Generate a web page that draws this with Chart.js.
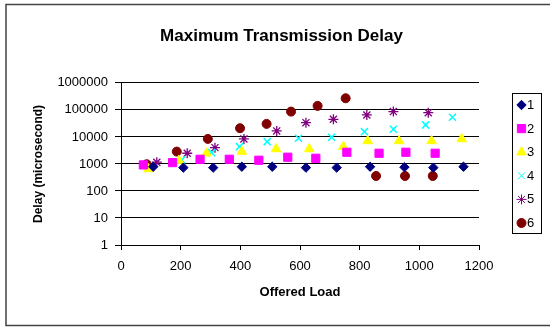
<!DOCTYPE html>
<html>
<head>
<meta charset="utf-8">
<script src="https://cdn.jsdelivr.net/npm/chart.js@4/dist/chart.umd.min.js"></script>
<style>
  html, body { margin: 0; padding: 0; background: #fff; }
  #wrap { width: 550px; height: 327px; }
</style>
</head>
<body>
<div id="wrap"><canvas id="chart1" width="550" height="327"></canvas></div>
<script>
// data
var seriesNames = ['1', '2', '3', '4', '5', '6'];

var load1 = [108, 209, 309, 405, 507, 620, 723, 835, 950, 1047, 1148];
var delay1 = [790, 730, 730, 790, 790, 730, 730, 790, 760, 730, 790];

var load2 = [75, 173, 265, 363, 462, 559, 653, 757, 865, 955, 1053];
var delay2 = [920, 1120, 1490, 1490, 1370, 1770, 1620, 2710, 2490, 2710, 2490];

var load3 = [92, 194, 287, 405, 520, 631, 745, 827, 932, 1041, 1142];
var delay3 = [650, 1330, 2490, 2860, 3590, 3590, 4370, 7100, 7100, 7100, 8430];

var load4 = [92, 203, 304, 397, 490, 595, 706, 816, 913, 1021, 1111];
var delay4 = [700, 1400, 2620, 4370, 6700, 8950, 9740, 15700, 19300, 27800, 53600];

var load5 = [120, 222, 315, 412, 522, 620, 712, 824, 913, 1030];
var delay5 = [1160, 2490, 4020, 8430, 16700, 33800, 45000, 65000, 86500, 79000];

var load6 = [86, 187, 291, 399, 488, 570, 659, 753, 855, 952, 1045];
var delay6 = [975, 2860, 8430, 21000, 30400, 86500, 141000, 270000, 359, 359, 359];

var yTicks = [1, 10, 100, 1000, 10000, 100000, 1000000];

var FONT = "'Liberation Sans', Arial, sans-serif";

function pts(xs, ys) {
    return xs.map(function (x, i) { return { x: x, y: ys[i] }; });
}

var styles = [
    { color: '#000080', pointStyle: 'rectRot', radius: 4.7, borderWidth: 1 },
    { color: '#FF00FF', pointStyle: 'rect', radius: 5.8, borderWidth: 1 },
    { color: '#FFFF00', pointStyle: 'triangle', radius: 5.5, borderWidth: 1 },
    { color: '#00FFFF', pointStyle: 'crossRot', radius: 5, borderWidth: 1.5 },
    { color: '#800080', pointStyle: 'star', radius: 5, borderWidth: 1.3 },
    { color: '#800000', pointStyle: 'circle', radius: 4.5, borderWidth: 1 }
];

var allData = [
    pts(load1, delay1), pts(load2, delay2), pts(load3, delay3),
    pts(load4, delay4), pts(load5, delay5), pts(load6, delay6)
];

var datasets = allData.map(function (d, i) {
    var s = styles[i];
    return {
        label: seriesNames[i],
        data: d,
        showLine: false,
        pointStyle: s.pointStyle,
        pointRadius: s.radius,
        pointHoverRadius: s.radius,
        pointBackgroundColor: s.color,
        pointBorderColor: s.color,
        pointBorderWidth: s.borderWidth,
        backgroundColor: s.color,
        borderColor: s.color
    };
});

// frame round the chart + legend box on the right
var extras = {
    id: 'extras',
    afterDraw: function (chart) {
        var ctx = chart.ctx;
        ctx.save();
        ctx.strokeStyle = '#444';
        ctx.lineWidth = 1.5;
        ctx.beginPath();
        ctx.moveTo(550, 4.5);
        ctx.lineTo(6, 4.5);
        ctx.lineTo(6, 325.5);
        ctx.lineTo(550, 325.5);
        ctx.stroke();

        ctx.strokeStyle = '#000';
        ctx.lineWidth = 1;
        ctx.strokeRect(512.5, 93.5, 29, 140);

        ctx.font = '13px ' + FONT;
        ctx.textBaseline = 'middle';
        ctx.textAlign = 'left';
        for (var i = 0; i < styles.length; i++) {
            var s = styles[i];
            var y = 105 + i * 23.6;
            ctx.fillStyle = s.color;
            ctx.strokeStyle = s.color;
            Chart.helpers.drawPoint(ctx, {
                pointStyle: s.pointStyle,
                radius: s.radius,
                rotation: 0,
                borderWidth: s.borderWidth
            }, 521.5, y);
            ctx.fillStyle = '#000';
            ctx.fillText(seriesNames[i], 527, y + 0.5);
        }
        ctx.restore();
    }
};

var chart1 = document.getElementById('chart1').getContext('2d');
var myChart = new Chart(chart1, {
    type: 'scatter',
    data: { datasets: datasets },
    plugins: [extras],
    options: {
        responsive: false,
        animation: false,
        layout: { padding: { left: 13, right: 0, top: 0, bottom: 0 } },
        plugins: {
            legend: { display: false },
            tooltip: { enabled: false },
            title: {
                display: true,
                text: 'Maximum Transmission Delay',
                color: '#000',
                font: { family: FONT, size: 17, weight: 'bold' },
                padding: { top: 26, bottom: 36.5 }
            }
        },
        scales: {
            x: {
                type: 'linear',
                min: 0,
                max: 1200,
                afterFit: function (s) { s.height = 82; },
                ticks: {
                    stepSize: 200,
                    color: '#000',
                    padding: 9,
                    maxRotation: 0,
                    font: { family: FONT, size: 13 },
                    callback: function (v) { return String(v); }
                },
                grid: {
                    drawOnChartArea: false,
                    drawTicks: true,
                    tickLength: 5,
                    color: '#000'
                },
                border: { color: '#000', width: 1 },
                title: {
                    display: true,
                    text: 'Offered Load',
                    color: '#000',
                    font: { family: FONT, size: 13, weight: 'bold' },
                    padding: { top: 0, bottom: 27 }
                }
            },
            y: {
                type: 'logarithmic',
                min: 1,
                max: 1000000,
                afterFit: function (s) { s.width = 108; },
                afterBuildTicks: function (s) {
                    s.ticks = yTicks.map(function (v) { return { value: v }; });
                },
                ticks: {
                    color: '#000',
                    padding: 7,
                    font: { family: FONT, size: 13 },
                    callback: function (v) { return String(v); }
                },
                grid: {
                    color: '#000',
                    lineWidth: 1,
                    tickLength: 6
                },
                border: { color: '#000', width: 1 },
                title: {
                    display: true,
                    text: 'Delay (microsecond)',
                    color: '#000',
                    font: { family: FONT, size: 12, weight: 'bold' },
                    padding: { top: 18, bottom: 0 }
                }
            },
            // empty right-hand box that keeps room for the legend
            spacer: {
                type: 'linear',
                position: 'right',
                display: true,
                afterFit: function (s) { s.width = 71; },
                ticks: { display: false },
                grid: { display: false, drawTicks: false },
                border: { display: false }
            }
        }
    }
});
</script>
</body>
</html>
